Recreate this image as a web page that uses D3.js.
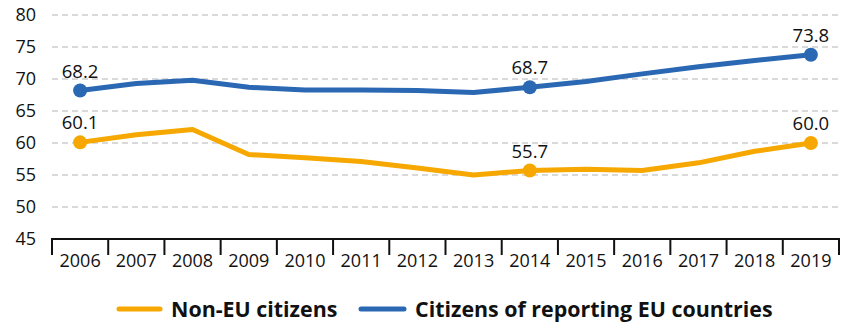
<!DOCTYPE html>
<html><head><meta charset="utf-8">
<script src="https://cdn.jsdelivr.net/npm/d3@7"></script>
<style>body{margin:0;background:#fff}svg{display:block}</style>
</head><body>
<svg id="c" width="841" height="324"></svg>
<script>
const years = ["2006","2007","2008","2009","2010","2011","2012","2013","2014","2015","2016","2017","2018","2019"];
const nonEU = [60.1,61.3,62.1,58.2,57.7,57.1,56.1,55.0,55.7,55.9,55.7,56.9,58.7,60.0];
const euCitizens = [68.2,69.3,69.8,68.7,68.3,68.3,68.2,67.9,68.7,69.6,70.8,71.9,72.9,73.8];
const yTicks = [45,50,55,60,65,70,75,80];
const labelled = ["2006","2014","2019"];
const seriesNames = ["Non-EU citizens","Citizens of reporting EU countries"];
const colors = ["#F6A800","#2B68B3"];

const svg = d3.select("#c");
const font = "'Open Sans', sans-serif";
const x = d3.scaleBand().domain(years).range([52,839]).padding(0);
const y = d3.scaleLinear().domain([45,80]).range([239,15]);
const cx = d => x(d) + x.bandwidth()/2;

// gridlines
svg.append("g").selectAll("line").data(yTicks.filter(t=>t>45)).join("line")
  .attr("x1",52).attr("x2",839).attr("y1",d=>y(d)).attr("y2",d=>y(d))
  .attr("stroke","#b3b3b3").attr("stroke-width",1.2).attr("stroke-dasharray","6,4");
// y labels
svg.append("g").selectAll("text").data(yTicks).join("text")
  .attr("x",36).attr("y",d=>y(d)).attr("dy","0.36em").attr("text-anchor","end")
  .attr("font-family",font).attr("font-size",18).attr("fill","#111").text(d=>d);
// x axis
svg.append("line").attr("x1",51).attr("x2",840).attr("y1",239).attr("y2",239)
  .attr("stroke","#111").attr("stroke-width",2.2);
const edges = years.map(d=>x(d)).concat([x.range()[1]]);
svg.append("g").selectAll("line").data(edges).join("line")
  .attr("x1",d=>d).attr("x2",d=>d).attr("y1",239).attr("y2",255)
  .attr("stroke","#111").attr("stroke-width",2);
svg.append("g").selectAll("text").data(years).join("text")
  .attr("x",d=>cx(d)).attr("y",267).attr("text-anchor","middle")
  .attr("font-family",font).attr("font-size",18).attr("fill","#111").text(d=>d);

const series = [nonEU, euCitizens];
const line = d3.line().x((d,i)=>cx(years[i])).y(d=>y(d));
series.forEach((vals,k)=>{
  svg.append("path").datum(vals).attr("d",line).attr("fill","none")
    .attr("stroke",colors[k]).attr("stroke-width",5).attr("stroke-linejoin","round");
  const pts = years.map((yr,i)=>({yr,v:vals[i]})).filter(p=>labelled.includes(p.yr));
  svg.append("g").selectAll("circle").data(pts).join("circle")
    .attr("cx",p=>cx(p.yr)).attr("cy",p=>y(p.v)).attr("r",7).attr("fill",colors[k]);
  svg.append("g").selectAll("text").data(pts).join("text")
    .attr("x",p=>cx(p.yr)).attr("y",p=>y(p.v)-13).attr("text-anchor","middle")
    .attr("font-family",font).attr("font-size",18.5).attr("fill","#111").text(p=>p.v.toFixed(1));
});

// legend
const leg = [{x1:119,x2:160,tx:171},{x1:361,x2:404,tx:415}];
leg.forEach((l,k)=>{
  svg.append("line").attr("x1",l.x1).attr("x2",l.x2).attr("y1",309).attr("y2",309)
    .attr("stroke",colors[k]).attr("stroke-width",5).attr("stroke-linecap","round");
  svg.append("text").attr("x",l.tx).attr("y",309).attr("dy","0.36em")
    .attr("font-family",font).attr("font-weight","bold").attr("font-size",21.4)
    .attr("fill","#111").text(seriesNames[k]);
});
</script>
</body></html>
